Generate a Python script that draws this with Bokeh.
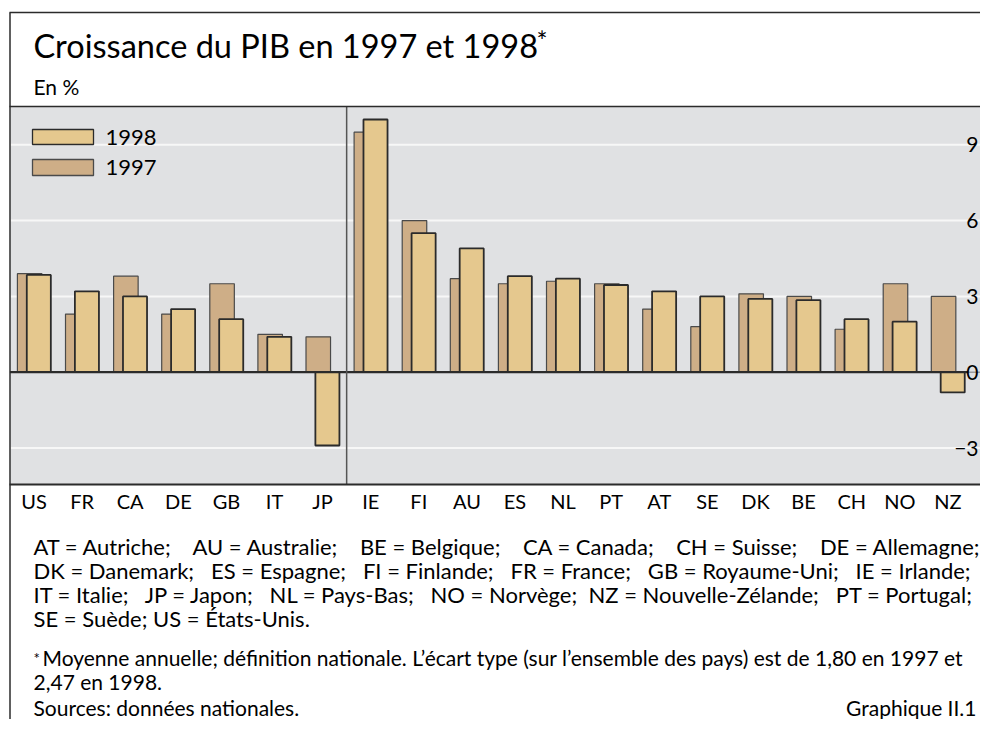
from bokeh.plotting import figure
from bokeh.models import Range1d
from bokeh.core.properties import value
from bokeh.embed import file_html
from bokeh.resources import INLINE

# ---------------- data ----------------
countries = ["US", "FR", "CA", "DE", "GB", "IT", "JP", "IE", "FI", "AU",
             "ES", "NL", "PT", "AT", "SE", "DK", "BE", "CH", "NO", "NZ"]
g1997 = [3.9, 2.3, 3.8, 2.3, 3.5, 1.5, 1.4, 9.5, 6.0, 3.7,
         3.5, 3.6, 3.5, 2.5, 1.8, 3.1, 3.0, 1.7, 3.5, 3.0]
g1998 = [3.85, 3.2, 3.0, 2.5, 2.1, 1.4, -2.9, 10.0, 5.5, 4.9,
         3.8, 3.7, 3.45, 3.2, 3.0, 2.9, 2.85, 2.1, 2.0, -0.8]
series_names = ["1998", "1997"]
y_ticks = [-3, 0, 3, 6, 9]
y_tick_labels = ["\u22123", "0", "3", "6", "9"]
n_g7 = 7  # first group before the separator

title_text = "Croissance du PIB en 1997 et 1998"
subtitle_text = "En %"
note_items = [
    ["AT = Autriche;", "AU = Australie;", "BE = Belgique;", "CA = Canada;", "CH = Suisse;", "DE = Allemagne;"],
    ["DK = Danemark;", "ES = Espagne;", "FI = Finlande;", "FR = France;", "GB = Royaume-Uni;", "IE = Irlande;"],
    ["IT = Italie;", "JP = Japon;", "NL = Pays-Bas;", "NO = Norvège;", "NZ = Nouvelle-Zélande;", "PT = Portugal;"],
    ["SE = Suède;", "US = États-Unis."],
]
footnote = [
    "Moyenne annuelle; définition nationale. L\u2019écart type (sur l\u2019ensemble des pays) est de 1,80 en 1997 et",
    "2,47 en 1998.",
]
source_text = "Sources: données nationales."
graph_id = "Graphique II.1"

# ---------------- layout (pixels) ----------------
W, H = 980, 719
cat_px0, cat_dx = 33.5, 48.1
zero_px, unit_px = 371.7, 25.27
FONT = "Lato"
DARK = "#2b2b2b"
C1997 = "#ceae87"
C1998 = "#e5c88e"
BG = "#e0e1e3"
NB = "\u00a0"
gaps = [[4, 4, 4, 4, 4], [3, 3, 3, 3, 3], [3, 3, 3, 2, 3], [1]]


def join_line(items, g):
    out = items[0]
    for it, k in zip(items[1:], g):
        out += NB * k + it
    return out


notes = [join_line(it, g) for it, g in zip(note_items, gaps)]

xr = Range1d(-cat_px0 / cat_dx, (W - cat_px0) / cat_dx)
yr = Range1d((zero_px - H) / unit_px, zero_px / unit_px)

p = figure(width=W, height=H, output_backend="svg", toolbar_location=None,
           x_range=xr, y_range=yr, x_axis_type=None, y_axis_type=None,
           min_border=0)
p.outline_line_color = None
p.grid.grid_line_color = None
p.background_fill_color = "white"
p.border_fill_color = "white"
p.extra_x_ranges = {"px": Range1d(0, W)}
p.extra_y_ranges = {"px": Range1d(H, 0)}
PX = dict(x_range_name="px", y_range_name="px")

# panel background
top_px, bot_px = 106, 484
p.quad(left=[10], right=[W], top=[top_px], bottom=[bot_px], fill_color=BG,
       line_color=None, **PX)

# grid lines
xl = -0.5
for t in y_ticks:
    if t != 0:
        p.segment(x0=[xl], x1=[xr.end], y0=[t], y1=[t], line_color="#f7f7f7", line_width=2)

# bars
idx = list(range(len(countries)))
p.vbar(x=[i - 0.09 for i in idx], top=g1997, bottom=0, width=0.51,
       fill_color=C1997, line_color="#4a4a4a", line_width=1.2)
p.vbar(x=[i + 0.1 for i in idx], top=g1998, bottom=0, width=0.50,
       fill_color=C1998, line_color=DARK, line_width=1.8)

# zero line
p.segment(x0=[19.42], x1=[xr.end], y0=[0], y1=[0], line_color="#8a8a8a", line_width=1.2)
p.segment(x0=[xl], x1=[19.42], y0=[0], y1=[0], line_color=DARK, line_width=2.2)

# separator
sep = n_g7 - 0.5
p.segment(x0=[sep], x1=[sep], y0=[top_px], y1=[bot_px], line_color="#555555",
          line_width=1.5, y_range_name="px")

# borders and outer frame
p.segment(x0=[9], x1=[W], y0=[top_px], y1=[top_px], line_color=DARK, line_width=1.5, **PX)
p.segment(x0=[9], x1=[W], y0=[bot_px], y1=[bot_px], line_color=DARK, line_width=2, **PX)
p.segment(x0=[9], x1=[W], y0=[12], y1=[12], line_color=DARK, line_width=1.5, **PX)
p.segment(x0=[9.5], x1=[9.5], y0=[12], y1=[H], line_color=DARK, line_width=1.5, **PX)

# right tick labels
p.text(x=[978] * len(y_ticks), y=y_ticks, text=y_tick_labels, x_range_name="px",
       text_align="right", text_baseline="middle", text_font=value(FONT),
       text_font_size="21px", text_color="black")

# category labels
p.text(x=idx, y=[500] * len(idx), text=countries, y_range_name="px",
       text_align="center", text_baseline="middle", text_font=value(FONT),
       text_font_size="20px", text_color="black")

# legend
p.quad(left=[32, 32], right=[93, 93], top=[129, 159], bottom=[144, 175],
       fill_color=[C1998, C1997], line_color=["#2b2b2b", "#4a4a4a"], line_width=1.3, **PX)
p.text(x=[105, 105], y=[137, 167], text=series_names, **PX,
       text_align="left", text_baseline="middle", text_font=value(FONT),
       text_font_size="22px", text_color="black")

# title and subtitle
p.text(x=[33], y=[45], text=[title_text], **PX,
       text_align="left", text_baseline="middle", text_font=value(FONT),
       text_font_size="32.5px", text_color="black")
p.text(x=[536], y=[40], text=["*"], **PX,
       text_align="left", text_baseline="middle", text_font=value(FONT),
       text_font_size="26px", text_color="black")
p.text(x=[33], y=[86], text=[subtitle_text], **PX,
       text_align="left", text_baseline="middle", text_font=value(FONT),
       text_font_size="21px", text_color="black")

# notes
p.text(x=[33] * len(notes), y=[546, 570, 594, 618], text=notes, **PX,
       text_align="left", text_baseline="middle",
       text_font=value(FONT), text_font_size="22px", text_color="black")
p.text(x=[33], y=[657], text=["*"], **PX,
       text_align="left", text_baseline="middle", text_font=value(FONT),
       text_font_size="15px", text_color="black")
p.text(x=[42, 33], y=[657, 681], text=footnote, **PX,
       text_align="left", text_baseline="middle", text_font=value(FONT),
       text_font_size="21px", text_color="black")
p.text(x=[33], y=[707], text=[source_text], **PX,
       text_align="left", text_baseline="middle", text_font=value(FONT),
       text_font_size="21px", text_color="black")
p.text(x=[976], y=[707], text=[graph_id], **PX,
       text_align="right", text_baseline="middle", text_font=value(FONT),
       text_font_size="21px", text_color="black")

open("out.html", "w").write(file_html(p, INLINE))
